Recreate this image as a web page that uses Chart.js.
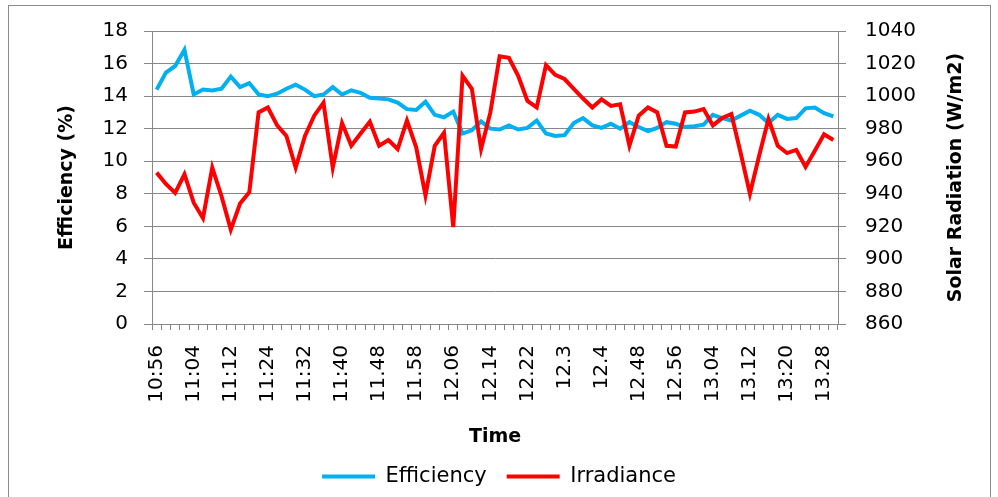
<!DOCTYPE html>
<html>
<head>
<meta charset="utf-8">
<script src="https://cdn.jsdelivr.net/npm/chart.js@4.4.1/dist/chart.umd.min.js"></script>
<style>
  html, body { margin: 0; padding: 0; background: #fff; }
  #wrap { position: relative; width: 998px; height: 497px; }
</style>
</head>
<body>
<div id="wrap"><canvas id="c" width="998" height="497"></canvas></div>
<script>
// ---- data ----
const shownTimes = ['10:56','11:04','11:12','11:24','11:32','11:40','11.48','11.58','12.06',
                    '12.14','12.22','12.3','12.4','12.48','12.56','13.04','13.12','13:20','13.28'];
const categoryCount = 74;
const labelEvery = 4;
const categories = [];
for (let i = 0; i < categoryCount; i++) {
  categories.push(i % labelEvery === 0 ? (shownTimes[i / labelEvery] || '') : '');
}

const efficiency = [
  14.4, 15.45, 15.85, 16.85, 14.1, 14.4, 14.35, 14.45, 15.2, 14.55,
  14.8, 14.1, 14.0, 14.15, 14.45, 14.7, 14.4, 14.0, 14.1, 14.55,
  14.1, 14.35, 14.2, 13.9, 13.85, 13.8, 13.6, 13.2, 13.15, 13.65,
  12.85, 12.7, 13.05, 11.7, 11.9, 12.45, 12.0, 11.95, 12.2, 11.95,
  12.05, 12.5, 11.7, 11.55, 11.6, 12.35, 12.65, 12.2, 12.05, 12.3,
  12.0, 12.4, 12.1, 11.85, 12.05, 12.4, 12.3, 12.1, 12.15, 12.25,
  12.85, 12.65, 12.5, 12.8, 13.1, 12.85, 12.35, 12.85, 12.6, 12.65,
  13.25, 13.3, 12.95, 12.75
];

const irradiance = [
  953, 946, 940.5, 952, 934.5, 925, 956, 938.5, 918, 934,
  941, 990, 993, 982, 975.5, 956, 975.5, 988, 996, 956,
  983.5, 969.5, 977, 984.3, 969.5, 973, 967.5, 985, 968.5, 939,
  969.5, 977.5, 919.5, 1012.5, 1004.5, 967.5, 990, 1024.5, 1023.5, 1012.5,
  997, 993, 1019, 1013, 1010.5, 1004.5, 998.5, 993, 998, 994,
  995, 969.5, 988, 993, 990, 969.5, 969, 990, 990.5, 992,
  982, 986.5, 989, 965, 940, 963.5, 986, 969.5, 965, 967,
  956.5, 966.5, 976.5, 973
];

const effTicks = { min: 0, max: 18, step: 2 };
const irrTicks = { min: 860, max: 1040, step: 20 };

const seriesNames = ['Efficiency', 'Irradiance'];
const xTitle = 'Time';
const yTitle = 'Efficiency (%)';
const y2Title = 'Solar Radiation (W/m2)';

// ---- style ----
const FONT = '"DejaVu Sans", "Liberation Sans", sans-serif';
const GRID = '#878787';
Chart.defaults.font.family = FONT;
Chart.defaults.color = '#000';

const framePlugin = {
  id: 'frame',
  beforeDraw(chart) {
    const ctx = chart.ctx;
    ctx.save();
    ctx.fillStyle = '#fff';
    ctx.fillRect(0, 0, chart.width, chart.height);
    ctx.strokeStyle = '#8a8a8a';
    ctx.lineWidth = 1;
    ctx.strokeRect(8.5, 5.5, 982, 520);
    ctx.restore();
  },
  afterDraw(chart) {
    const ctx = chart.ctx;
    const s = chart.scales.y2;
    ctx.save();
    ctx.translate(s.left + 118, (chart.chartArea.top + chart.chartArea.bottom) / 2);
    ctx.rotate(-Math.PI / 2);
    ctx.font = 'bold 19px ' + FONT;
    ctx.fillStyle = '#000';
    ctx.textAlign = 'center';
    ctx.textBaseline = 'middle';
    ctx.fillText(y2Title, 0, 0);
    ctx.restore();
  }
};

new Chart(document.getElementById('c'), {
  type: 'line',
  data: {
    labels: categories,
    datasets: [
      { label: seriesNames[0], data: efficiency, yAxisID: 'y', borderColor: '#00B0F0',
        backgroundColor: '#00B0F0', borderWidth: 4, pointRadius: 0, tension: 0, order: 1 },
      { label: seriesNames[1], data: irradiance, yAxisID: 'y2', borderColor: '#FF0000',
        backgroundColor: '#FF0000', borderWidth: 4, pointRadius: 0, tension: 0, order: 0 }
    ]
  },
  options: {
    responsive: false,
    animation: false,
    layout: { padding: { top: 30, left: 0, right: 0, bottom: 0 } },
    plugins: {
      tooltip: { enabled: false },
      legend: {
        position: 'bottom',
        labels: {
          usePointStyle: true,
          pointStyle: 'line',
          pointStyleWidth: 53,
          padding: 20,
          font: { size: 21 },
          color: '#000',
          sort: (a, b) => a.datasetIndex - b.datasetIndex
        }
      }
    },
    scales: {
      x: {
        type: 'category',
        offset: true,
        grid: { offset: true, drawOnChartArea: false, drawTicks: true, tickLength: 6, color: GRID },
        border: { color: GRID, width: 1 },
        ticks: { autoSkip: false, maxRotation: 90, minRotation: 90, padding: 15,
                 font: { size: 20 }, color: '#000' },
        title: { display: true, text: xTitle, font: { size: 19, weight: 'bold' },
                 color: '#000', padding: { top: 0, bottom: -2 } },
        afterFit(s) { s.height = 122; }
      },
      y: {
        position: 'left',
        min: effTicks.min, max: effTicks.max,
        ticks: { stepSize: effTicks.step, padding: 16, font: { size: 20 }, color: '#000',
                 callback: v => String(v) },
        grid: { color: GRID, tickLength: 8, lineWidth: 1 },
        border: { color: GRID, width: 1 },
        title: { display: true, text: yTitle, font: { size: 19, weight: 'bold' },
                 color: '#000', padding: { top: 56, bottom: 0 } },
        afterFit(s) { s.width = 152; }
      },
      y2: {
        position: 'right',
        min: irrTicks.min, max: irrTicks.max,
        ticks: { stepSize: irrTicks.step, padding: 19, font: { size: 20 }, color: '#000',
                 callback: v => String(v) },
        grid: { drawOnChartArea: false, color: GRID, tickLength: 8 },
        border: { color: GRID, width: 1 },
        afterFit(s) { s.width = 160; }
      }
    }
  },
  plugins: [framePlugin]
});
</script>
</body>
</html>
